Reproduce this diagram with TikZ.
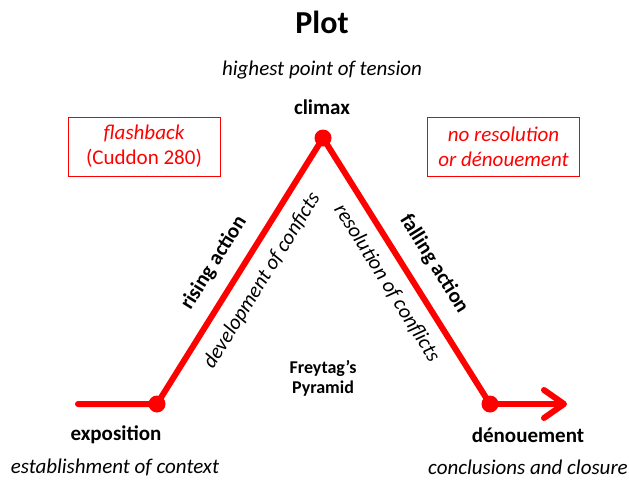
\documentclass[tikz,border=0pt]{standalone}
\usepackage{fontspec}
\setmainfont{Carlito}
\usetikzlibrary{arrows.meta}
\definecolor{plotred}{RGB}{255,0,0}
\tikzset{
  dotnode/.style={circle,fill=plotred,inner sep=0pt,minimum size=17pt},
  plotline/.style={draw=plotred,line width=6pt,line cap=round,line join=round},
  lbl/.style={inner sep=0pt,font=\fontsize{21}{25}\selectfont},
  blbl/.style={lbl,font=\fontsize{21}{25}\selectfont\bfseries},
  ilbl/.style={lbl,font=\fontsize{21}{25}\selectfont\itshape},
  notebox/.style={draw=plotred,line width=1pt,text=plotred,minimum width=152pt,minimum height=59pt,align=center,inner sep=0pt,font=\fontsize{21}{25}\selectfont}
}
\begin{document}
\begin{tikzpicture}[x=1pt,y=-1pt]
\useasboundingbox (0,0) rectangle (629,482);
% title
\node[inner sep=0pt,font=\fontsize{32}{36}\selectfont\bfseries] (title) at (322,22) {Plot};
% line points
\coordinate (start) at (78,404);
\node[dotnode] (expo) at (157,404) {};
\node[dotnode] (climax) at (323,138) {};
\node[dotnode] (denoue) at (490,404) {};
\coordinate (end) at (567,404);
\draw[plotline] (start) -- (expo.center) -- (climax.center) -- (denoue.center);
\draw[plotline,-{Straight Barb[length=20pt,width=28pt,line cap=round,line join=round]}] (denoue.center) -- (end);
% labels
\node[ilbl] (tension) at (322,70) {highest point of tension};
\node[blbl] (climaxlbl) at (322,107) {climax};
\node[blbl] (expolbl) at (116,435) {exposition};
\node[ilbl] (context) at (115,467) {establishment of context};
\node[blbl] (denouelbl) at (528,435) {dénouement};
\node[ilbl] (closure) at (528,467) {conclusions and closure};
\node[blbl,rotate=58] (rising) at (214,263) {rising action};
\node[ilbl,rotate=58] (develop) at (262,281) {development of conficts};
\node[blbl,rotate=-58] (falling) at (434,264) {falling action};
\node[ilbl,rotate=-58] (resol) at (387,283) {resolution of conflicts};
\node[inner sep=0pt,align=center,font=\fontsize{18}{20}\selectfont\bfseries] (freytag) at (323,378) {Freytag’s\\Pyramid};
% boxes
\node[notebox] (flash) at (144,146.5) {\itshape flashback\\(Cuddon 280)};
\node[notebox,font=\fontsize{21}{25}\selectfont\itshape] (nores) at (503.5,146.5) {no resolution\\or dénouement};
\end{tikzpicture}
\end{document}
